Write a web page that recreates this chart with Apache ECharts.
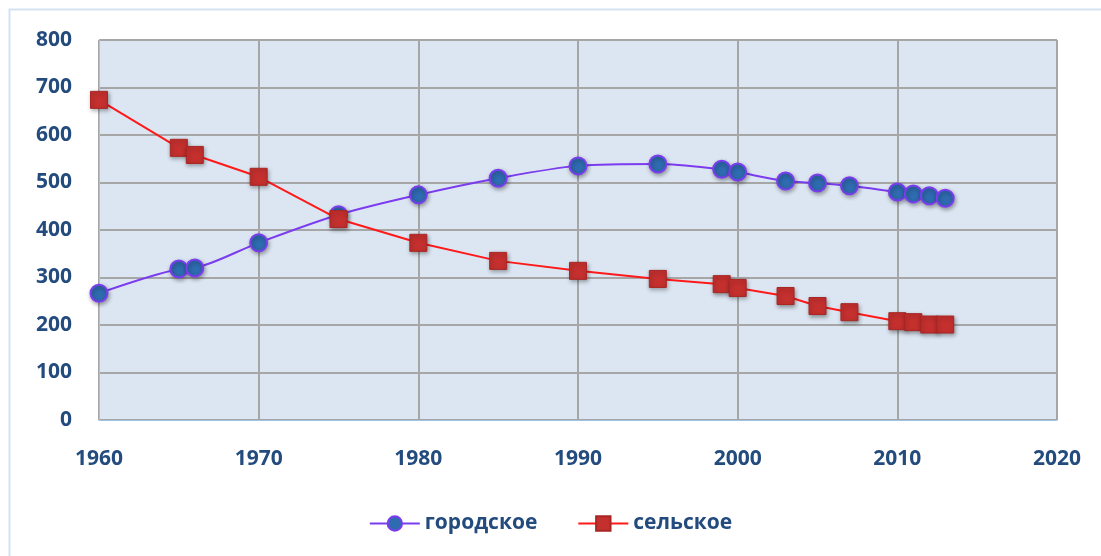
<!DOCTYPE html>
<html>
<head>
<meta charset="utf-8">
<script src="https://cdn.jsdelivr.net/npm/echarts@6/dist/echarts.min.js"></script>
<style>
  html, body { margin: 0; padding: 0; background: #fff; }
  #chart { width: 1101px; height: 556px; }
</style>
</head>
<body>
<div id="chart"></div>
<script>
// годы наблюдений
const years = [1960, 1965, 1966, 1970, 1975, 1980, 1985, 1990, 1995, 1999, 2000, 2003, 2005, 2007, 2010, 2011, 2012, 2013];
// городское население
const urban = [267, 318, 320, 373, 432, 474, 509, 535, 539, 528, 522, 503, 499, 493, 480, 476, 472, 467];
// сельское население
const rural = [674, 573, 558, 512, 423, 373, 335, 314, 297, 286, 278, 261, 240, 227, 208, 206, 201, 201];

const labelColor = '#234b7d';
const font = 'Open Sans, sans-serif';
const pairs = (xs, ys) => xs.map((x, i) => [x, ys[i]]);

const chart = echarts.init(document.getElementById('chart'), null, { renderer: 'canvas' });
chart.setOption({
  backgroundColor: '#fff',
  animation: false,
  // тонкая рамка области диаграммы
  graphic: [{
    type: 'rect', silent: true, z: -1,
    shape: { x: 9.5, y: 9.5, width: 1200, height: 700 },
    style: { fill: 'none', stroke: '#d6e2f2', lineWidth: 2 },
  }],
  grid: {
    left: 99, right: 44, top: 40, bottom: 136,
    show: true,
    backgroundColor: '#dce6f2',
    borderColor: '#a6a6a6',
    borderWidth: 1,
  },
  xAxis: {
    type: 'value',
    min: 1960, max: 2020, interval: 10,
    axisLine: { show: true, lineStyle: { color: '#9dc3e6', width: 1 } },
    axisTick: { show: false },
    splitLine: { show: true, lineStyle: { color: '#a6a6a6', width: 2 } },
    axisLabel: {
      color: labelColor, fontSize: 21, fontWeight: 'bold',
      fontFamily: font, margin: 29,
      formatter: (v) => String(v),
    },
  },
  yAxis: {
    type: 'value',
    min: 0, max: 800, interval: 100,
    axisLine: { show: true, lineStyle: { color: '#9dc3e6', width: 1 } },
    axisTick: { show: false },
    splitLine: { show: true, lineStyle: { color: '#a6a6a6', width: 2 } },
    axisLabel: {
      color: labelColor, fontSize: 21, fontWeight: 'bold',
      fontFamily: font, margin: 27,
    },
  },
  legend: {
    bottom: 17, left: 'center',
    itemWidth: 50, itemHeight: 18, itemGap: 40,
    textStyle: { color: labelColor, fontSize: 21, fontWeight: 'bold', fontFamily: font },
    data: ['городское', 'сельское'],
  },
  series: [
    {
      name: 'городское',
      type: 'line',
      data: pairs(years, urban),
      smooth: 0.3,
      symbol: 'circle',
      symbolSize: 17,
      lineStyle: { color: '#7b3cf0', width: 2 },
      itemStyle: {
        color: '#2f6bb0', borderColor: '#7b3cf0', borderWidth: 2,
        shadowColor: 'rgba(0,0,0,0.35)', shadowBlur: 4, shadowOffsetX: 1, shadowOffsetY: 2,
      },
      z: 3,
    },
    {
      name: 'сельское',
      type: 'line',
      data: pairs(years, rural),
      symbol: 'rect',
      symbolSize: 17,
      lineStyle: { color: '#ff1a1a', width: 2 },
      itemStyle: {
        color: '#c4302e', borderColor: '#a82624', borderWidth: 1,
        shadowColor: 'rgba(0,0,0,0.35)', shadowBlur: 4, shadowOffsetX: 1, shadowOffsetY: 2,
      },
      z: 4,
    },
  ],
});
window.addEventListener('resize', () => chart.resize());
</script>
</body>
</html>
